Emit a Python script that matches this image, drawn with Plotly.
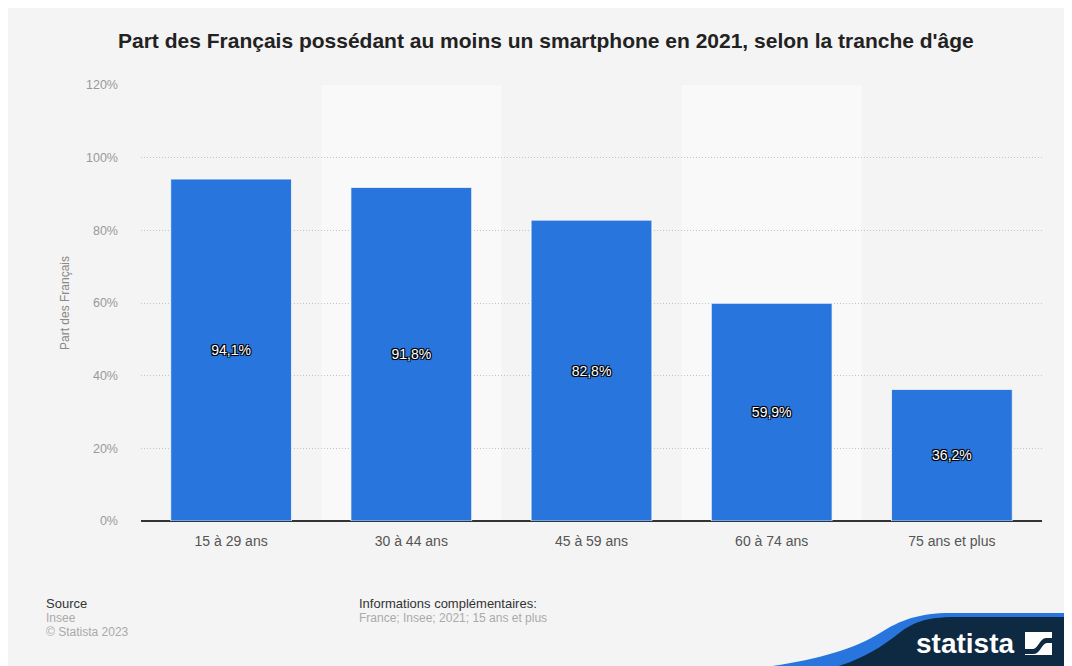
import plotly.graph_objects as go

categories = ["15 à 29 ans", "30 à 44 ans", "45 à 59 ans", "60 à 74 ans", "75 ans et plus"]
values = [94.1, 91.8, 82.8, 59.9, 36.2]
labels = ["94,1%", "91,8%", "82,8%", "59,9%", "36,2%"]
tick_vals = [0, 20, 40, 60, 80, 100, 120]
tick_text = ["0%", "20%", "40%", "60%", "80%", "100%", "120%"]

# page is offset by the body margin (8px); work in page coordinates
OFF = 8
W, H = 1072 - OFF, 666 - OFF
PL, PR, PT, PB = 141, 1042, 85, 521  # plot area in page coords
L, T = PL - OFF, PT - OFF
R = W - (PR - OFF)
B = H - (PB - OFF)
PW, PH = PR - PL, PB - PT

def px(x):
    return (x - PL) / PW

def py(y):
    return (PB - y) / PH

FONT = "Liberation Sans, Arial, sans-serif"

fig = go.Figure()
fig.add_trace(go.Bar(
    x=categories, y=values, text=labels,
    textposition="inside", insidetextanchor="middle", textangle=0,
    textfont=dict(family=FONT, size=14, color="white",
                  shadow="-1px -1px 0 #000, 1px -1px 0 #000, -1px 1px 0 #000, 1px 1px 0 #000, 0 0 2px #000"),
    marker=dict(color="#2876dd", line=dict(color="rgba(255,255,255,0.7)", width=1)),
    width=0.67, hoverinfo="skip",
))

shapes = []
# column bands
for i in range(len(categories)):
    if i % 2 == 1:
        shapes.append(dict(type="rect", xref="x", yref="paper", x0=i - 0.5, x1=i + 0.5, y0=0, y1=1,
                           fillcolor="#f9f9f9", line=dict(width=0), layer="below"))

def pt(x, y):
    return f"{px(x):.5f},{py(y):.5f}"

blue_path = ("M " + pt(740, 670) + " C " + pt(800, 664) + " " + pt(850, 652) + " " + pt(880, 633)
             + " C " + pt(900, 620) + " " + pt(920, 613) + " " + pt(950, 613)
             + " L " + pt(1080, 613) + " L " + pt(1080, 670) + " Z")
navy_path = ("M " + pt(825, 670) + " C " + pt(860, 661) + " " + pt(880, 648) + " " + pt(898, 634)
             + " C " + pt(912, 623) + " " + pt(925, 617) + " " + pt(955, 617)
             + " L " + pt(1080, 617) + " L " + pt(1080, 670) + " Z")
shapes.append(dict(type="path", xref="paper", yref="paper", path=blue_path, fillcolor="#2876dd",
                   line=dict(width=0), layer="above"))
shapes.append(dict(type="path", xref="paper", yref="paper", path=navy_path, fillcolor="#0d2a42",
                   line=dict(width=0), layer="above"))
# logo icon
shapes.append(dict(type="rect", xref="paper", yref="paper", x0=px(1025), x1=px(1052), y0=py(655), y1=py(632),
                   fillcolor="white", line=dict(width=0), layer="above"))
icon_path = ("M " + pt(1025, 649) + " L " + pt(1033, 649) + " C " + pt(1038, 649) + " " + pt(1040, 638)
             + " " + pt(1046, 638) + " L " + pt(1052, 638) + " L " + pt(1052, 643) + " L " + pt(1047, 643)
             + " C " + pt(1042, 643) + " " + pt(1040, 654) + " " + pt(1034, 654) + " L " + pt(1025, 654) + " Z")
shapes.append(dict(type="path", xref="paper", yref="paper", path=icon_path, fillcolor="#0d2a42",
                   line=dict(width=0), layer="above"))

def ann(text, x, y, size, color, xanchor="left", **kw):
    return dict(text=text, x=px(x), y=py(y), xref="paper", yref="paper", showarrow=False,
                xanchor=xanchor, yanchor="middle", font=dict(family=FONT, size=size, color=color), **kw)

annotations = [
    ann("<b>Part des Français possédant au moins un smartphone en 2021, selon la tranche d'âge</b>",
        546, 40, 21, "#222", xanchor="center"),
    ann("Part des Français", 65, 303, 12, "#888", xanchor="center", textangle=-90),
    ann("Source", 44, 603, 13, "#333"),
    ann("Insee", 44, 618, 12, "#aaa"),
    ann("© Statista 2023", 44, 632, 12, "#aaa"),
    ann("Informations complémentaires:", 357, 603, 13, "#333"),
    ann("France; Insee; 2021; 15 ans et plus", 357, 618, 12, "#aaa"),
    ann("<b>statista</b>", 1016, 643, 28, "white", xanchor="right"),
]

fig.update_layout(
    width=W, height=H,
    margin=dict(l=L, r=R, t=T, b=B, pad=0),
    paper_bgcolor="#f4f4f4", plot_bgcolor="rgba(0,0,0,0)",
    showlegend=False,
    shapes=shapes, annotations=annotations,
    font=dict(family=FONT),
    xaxis=dict(showgrid=False, showline=False, ticks="", zeroline=False,
               tickfont=dict(family=FONT, size=14, color="#555"), ticklabelstandoff=10,
               fixedrange=True),
    yaxis=dict(range=[0, 120], tickvals=tick_vals, ticktext=tick_text,
               showgrid=True, gridcolor="#c4c4c4", griddash="1px,2px", gridwidth=1,
               zeroline=True, zerolinecolor="#333", zerolinewidth=1.5,
               tickfont=dict(family=FONT, size=12.5, color="#999"), ticks="",
               ticklabelstandoff=22, showline=False, fixedrange=True),
)

fig.write_html("out.html")
